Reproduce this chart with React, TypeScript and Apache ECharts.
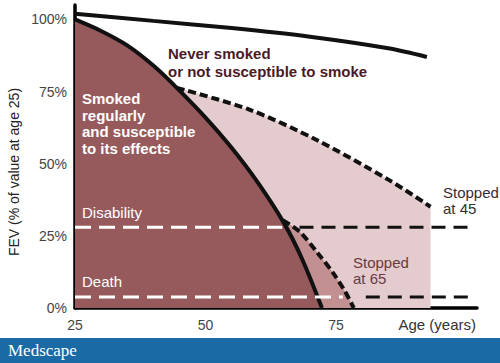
import React, { useEffect, useRef } from "react";
import * as echarts from "echarts";

// Age (years) / FEV (% of value at age 25)
const neverSmoked: [number, number][] = [
  [25, 102], [40, 99.5], [55, 97], [70, 94], [85, 90], [92.4, 87],
];
const smoked: [number, number][] = [
  [25, 100], [30, 96], [35, 91], [40, 84], [44.5, 76.3], [50, 66], [55, 55.5],
  [60, 43.5], [65, 29.5], [68.5, 17], [72.3, 0],
];
const stopped45: [number, number][] = [
  [44.5, 76.3], [58.4, 68.75], [71.2, 58.3], [85.1, 44.4], [93.1, 35.1],
];
const stopped65: [number, number][] = [
  [64.8, 30.4], [68, 26.5], [71.5, 19], [74.5, 12], [76.8, 5.5], [78.4, 0],
];
const disabilityLevel = 28;
const deathLevel = 3.8;
const disabilityWhite: [number, number][] = [[25, disabilityLevel], [64.7, disabilityLevel]];
const disabilityBlack: [number, number][] = [[68, disabilityLevel], [101, disabilityLevel]];
const deathWhite: [number, number][] = [[25, deathLevel], [76.3, deathLevel]];
const deathBlack: [number, number][] = [[80.7, deathLevel], [101, deathLevel]];
const xTicks = [25, 50, 75];
const yTicks = [0, 25, 50, 75, 100];

const FONT = "'Liberation Sans', Arial, sans-serif";

export default function App() {
  const ref = useRef<HTMLDivElement>(null);
  useEffect(() => {
    document.body.style.margin = "0";
    if (!ref.current) return;
    const chart = echarts.init(ref.current, null, { renderer: "svg" });
    const dashed = (data: [number, number][], color: string, width: number, dash: number[], z = 5) => ({
      type: "line",
      data,
      showSymbol: false,
      symbol: "none",
      lineStyle: { color, width, type: dash },
      z,
      silent: true,
    });
    chart.setOption({
      animation: false,
      textStyle: { fontFamily: FONT },
      grid: { left: 75, right: 23, top: 5, bottom: 55, containLabel: false },
      xAxis: {
        type: "value",
        min: 25,
        max: 102,
        interval: 25,
        axisLine: { show: true, lineStyle: { color: "#000", width: 3.5 } },
        axisTick: { show: false },
        splitLine: { show: false },
        axisLabel: {
          margin: 10,
          fontSize: 14,
          color: "#444",
          fontFamily: FONT,
          formatter: (v: number) => (xTicks.includes(v) ? String(v) : ""),
        },
      },
      yAxis: {
        type: "value",
        min: 0,
        max: 105,
        interval: 25,
        axisLine: { show: true, lineStyle: { color: "#000", width: 3.5 } },
        axisTick: { show: false },
        splitLine: { show: false },
        axisLabel: {
          margin: 8,
          fontSize: 14,
          color: "#444",
          fontFamily: FONT,
          formatter: (v: number) => (yTicks.includes(v) ? v + "%" : ""),
        },
      },
      series: [
        {
          type: "line",
          data: stopped45,
          smooth: 0.3,
          showSymbol: false,
          symbol: "none",
          lineStyle: { color: "#111", width: 4, type: [8, 4] },
          areaStyle: { color: "#e4cbcd", opacity: 1 },
          z: 2,
        },
        {
          type: "line",
          data: stopped65,
          smooth: 0.3,
          showSymbol: false,
          symbol: "none",
          lineStyle: { color: "#111", width: 4, type: [8, 4] },
          areaStyle: { color: "#c39092", opacity: 1 },
          z: 3,
        },
        {
          type: "line",
          data: smoked,
          smooth: 0.3,
          showSymbol: false,
          symbol: "none",
          lineStyle: { color: "#111", width: 4 },
          areaStyle: { color: "#975a5c", opacity: 1 },
          z: 4,
        },
        {
          type: "line",
          data: neverSmoked,
          smooth: 0.3,
          showSymbol: false,
          symbol: "none",
          lineStyle: { color: "#111", width: 4 },
          z: 4,
        },
        dashed(disabilityWhite, "#fff", 3, [16, 8]),
        dashed(disabilityBlack, "#111", 3, [14, 8]),
        dashed(deathWhite, "#fff", 3, [16, 8]),
        dashed(deathBlack, "#111", 3, [14, 8]),
      ],
      graphic: [
        {
          type: "text",
          left: 168,
          top: 44,
          z: 10,
          style: {
            text: "Never smoked\nor not susceptible to smoke",
            font: `bold 15px ${FONT}`,
            fill: "#4a1a28",
            lineHeight: 18,
          },
        },
        {
          type: "text",
          left: 82,
          top: 90,
          z: 10,
          style: {
            text: "Smoked\nregularly\nand susceptible\nto its effects",
            font: `bold 15px ${FONT}`,
            fill: "#ffffff",
            lineHeight: 16.7,
          },
        },
        {
          type: "text",
          left: 82,
          top: 205,
          z: 10,
          style: { text: "Disability", font: `15px ${FONT}`, fill: "#ffffff" },
        },
        {
          type: "text",
          left: 82,
          top: 274,
          z: 10,
          style: { text: "Death", font: `15px ${FONT}`, fill: "#ffffff" },
        },
        {
          type: "text",
          left: 443,
          top: 185,
          z: 10,
          style: { text: "Stopped\nat 45", font: `15px ${FONT}`, fill: "#3a2c2e", lineHeight: 15.5 },
        },
        {
          type: "text",
          left: 353,
          top: 254,
          z: 10,
          style: { text: "Stopped\nat 65", font: `15px ${FONT}`, fill: "#6a3a42", lineHeight: 16 },
        },
        {
          type: "text",
          right: 24,
          top: 317,
          z: 10,
          style: { text: "Age (years)", font: `15px ${FONT}`, fill: "#333" },
        },
        {
          type: "text",
          x: 7,
          y: 172,
          rotation: Math.PI / 2,
          z: 10,
          style: {
            text: "FEV (% of value at age 25)",
            font: `14px ${FONT}`,
            fill: "#222",
            align: "center",
            verticalAlign: "top",
          },
        },
        {
          type: "rect",
          left: 0,
          top: 338,
          z: 10,
          shape: { width: 500, height: 25 },
          style: { fill: "#1a6aa6" },
        },
        {
          type: "text",
          left: 8,
          top: 342,
          z: 11,
          style: { text: "Medscape", font: `17px 'Liberation Serif', 'Times New Roman', serif`, fill: "#ffffff" },
        },
      ],
    });
    return () => chart.dispose();
  }, []);
  return <div ref={ref} style={{ width: 500, height: 363 }} />;
}
